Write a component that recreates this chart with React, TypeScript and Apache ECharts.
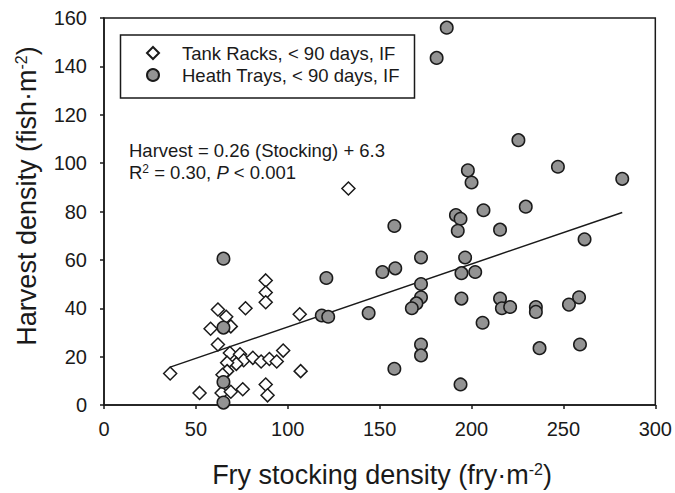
import React, { useEffect, useRef } from "react";
import * as echarts from "echarts";

const xTicks = [0, 50, 100, 150, 200, 250, 300];
const yTicks = [0, 20, 40, 60, 80, 100, 120, 140, 160];

const tankRacks: number[][] = [
  [36, 13], [52, 5], [62, 39.5], [66.5, 36.5], [58, 31.5], [69, 32.5], [62, 25],
  [77, 40], [88, 51.5], [88, 46.5], [88, 42.5], [106.5, 37.5], [68.5, 21.5],
  [74, 21], [76, 18.5], [72, 17], [67, 17.5], [67, 14], [64.5, 12.5], [81, 19.5],
  [85.5, 18], [90, 19], [94, 18], [97.5, 22.5], [107, 14], [64, 5], [69, 5.5],
  [75.5, 6.5], [88, 8.5], [89, 4], [133, 89.5],
];

const heathTrays: number[][] = [
  [186.5, 156], [181, 143.5], [225.5, 109.5], [198, 97], [200, 92], [247, 98.5],
  [282, 93.5], [158, 74], [191.5, 78.5], [194, 77], [206.5, 80.5], [229.5, 82],
  [192.5, 72], [215.5, 72.5], [261.5, 68.5], [121, 52.5], [151.5, 55], [158.5, 56.5],
  [172.5, 61], [196.5, 61], [194.5, 54.5], [202, 55], [172.5, 50], [172.5, 44.5],
  [170, 42], [167.5, 40], [194.5, 44], [215.5, 44], [216.5, 40], [221, 40.5],
  [235, 40.5], [235, 38.5], [253, 41.5], [258.5, 44.5], [144, 38], [118.5, 37],
  [122, 36.5], [206, 34], [172.5, 25], [172.5, 20.5], [158, 15], [237, 23.5],
  [259, 25], [194, 8.5], [65, 60.5], [65, 32], [65, 9.5], [65, 1],
];

const seriesNames = ["Tank Racks, < 90 days, IF", "Heath Trays, < 90 days, IF"];
const slope = 0.26;
const intercept = 6.3;
const fitRange = [36, 282];

const FONT = "'Liberation Sans', Arial, Helvetica, sans-serif";
const INK = "#1a1a1a";

export default function App() {
  const ref = useRef<HTMLDivElement>(null);
  useEffect(() => {
    if (!ref.current) return;
    const chart = echarts.init(ref.current, undefined, { renderer: "svg" });
    const fitLine = fitRange.map((x) => [x, slope * x + intercept]);
    chart.setOption({
      animation: false,
      backgroundColor: "#fff",
      textStyle: { fontFamily: FONT },
      grid: {
        left: 104, right: 18, top: 18, bottom: 88,
        show: true, borderColor: INK, borderWidth: 1.5, backgroundColor: "transparent",
      },
      xAxis: {
        type: "value", min: xTicks[0], max: xTicks[xTicks.length - 1], interval: 50,
        axisLine: { show: true, lineStyle: { color: INK, width: 1.5 } },
        axisTick: { show: true, inside: false, length: 4, lineStyle: { color: INK, width: 1.5 } },
        axisLabel: { fontSize: 20, color: INK, margin: 14, fontFamily: FONT },
        splitLine: { show: false },
      },
      yAxis: {
        type: "value", min: yTicks[0], max: yTicks[yTicks.length - 1], interval: 20,
        axisLine: { show: true, lineStyle: { color: INK, width: 1.5 } },
        axisTick: { show: true, inside: false, length: 4, lineStyle: { color: INK, width: 1.5 } },
        axisLabel: { fontSize: 20, color: INK, margin: 17, fontFamily: FONT },
        splitLine: { show: false },
      },
      legend: {
        left: 146, top: 42, orient: "vertical",
        data: seriesNames,
        selectedMode: false,
        padding: 0,
        itemGap: 0, itemWidth: 12, itemHeight: 12,
        textStyle: { fontSize: 18.5, color: INK, fontFamily: FONT, lineHeight: 22, padding: [0, 0, 0, 18] },
      },
      series: [
        {
          type: "line", data: fitLine, symbol: "none", silent: true, z: 1,
          lineStyle: { color: INK, width: 1.5 },
        },
        {
          name: seriesNames[0], type: "scatter", data: tankRacks, symbol: "diamond", symbolSize: 13, z: 2,
          itemStyle: { color: "#ffffff", borderColor: INK, borderWidth: 1.5, opacity: 1 },
        },
        {
          name: seriesNames[1], type: "scatter", data: heathTrays, symbol: "circle", symbolSize: 12.5, z: 3,
          itemStyle: { color: "#939393", borderColor: INK, borderWidth: 1.5, opacity: 1 },
        },
      ],
      graphic: [
        {
          type: "rect", left: 118, top: 32.5, z: 10, silent: true,
          shape: { width: 294, height: 63 },
          style: { fill: "none", stroke: INK, lineWidth: 1.5 },
        },
        {
          type: "text", left: 129, top: 141,
          style: {
            text: "Harvest = 0.26 (Stocking) + 6.3", fontSize: 18.5, fill: INK, fontFamily: FONT,
          },
        },
        {
          type: "text", left: 129, top: 163,
          style: {
            text: "R{sup|2} = 0.30, {it|P} < 0.001", fontSize: 18.5, fill: INK, fontFamily: FONT,
            rich: {
              sup: { fontSize: 12, verticalAlign: "top", lineHeight: 11, fontFamily: FONT, fill: INK },
              it: { fontSize: 18.5, fontStyle: "italic", fontFamily: FONT, fill: INK },
            },
          },
        },
        {
          type: "text", x: 382, y: 475,
          style: {
            text: "Fry stocking density (fry·m{sup|-2})", fontSize: 27, fill: INK, fontFamily: FONT,
            align: "center", verticalAlign: "middle",
            rich: { sup: { fontSize: 16, verticalAlign: "top", lineHeight: 16, fontFamily: FONT, fill: INK } },
          },
        },
        {
          type: "text", x: 27, y: 196, rotation: Math.PI / 2,
          style: {
            text: "Harvest density (fish·m{sup|-2})", fontSize: 27, fill: INK, fontFamily: FONT,
            align: "center", verticalAlign: "middle",
            rich: { sup: { fontSize: 16, verticalAlign: "top", lineHeight: 16, fontFamily: FONT, fill: INK } },
          },
        },
      ],
    });
    return () => chart.dispose();
  }, []);
  return <div ref={ref} style={{ position: "absolute", left: 0, top: 0, width: 675, height: 493 }} />;
}
